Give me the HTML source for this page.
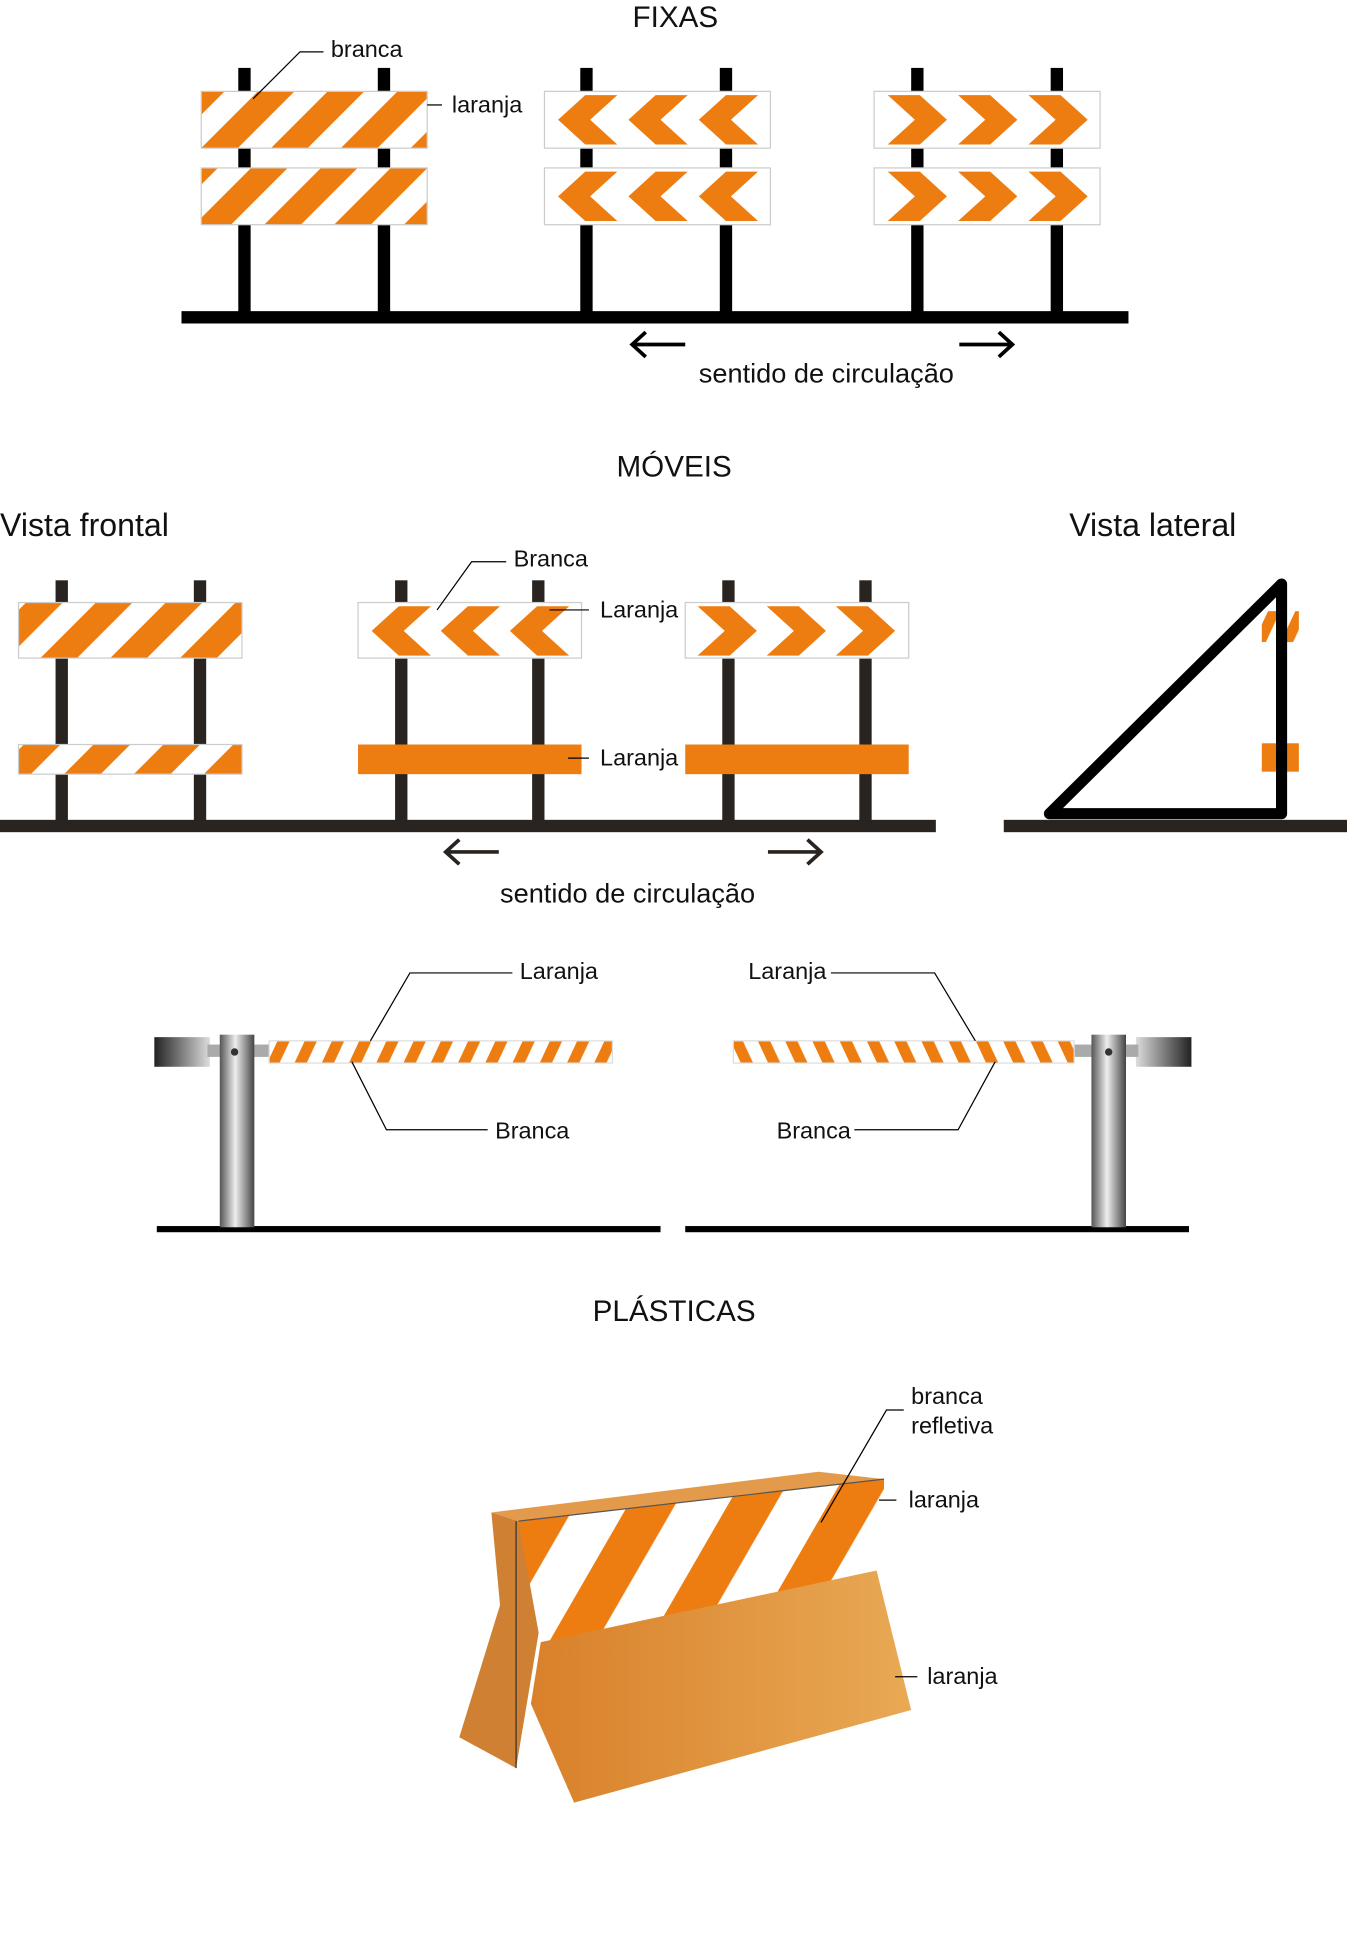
<!DOCTYPE html>
<html><head><meta charset="utf-8"><style>html,body{margin:0;padding:0;background:#fff}svg{display:block}text{font-family:"Liberation Sans",sans-serif;fill:#111}</style></head><body>
<svg width="1347" height="1936" viewBox="0 0 1091 1568" preserveAspectRatio="none" xmlns="http://www.w3.org/2000/svg">
<defs>
<pattern id="st" width="40" height="40" patternUnits="userSpaceOnUse" patternTransform="rotate(45)"><rect width="40" height="40" fill="#fff"/><rect width="21" height="40" fill="#ee7d11"/></pattern>
<pattern id="st2" width="20" height="20" patternUnits="userSpaceOnUse" patternTransform="rotate(25)"><rect width="20" height="20" fill="#fff"/><rect width="9" height="20" fill="#ee7d11"/></pattern>
<pattern id="st3" width="20" height="20" patternUnits="userSpaceOnUse" patternTransform="rotate(-25)"><rect width="20" height="20" fill="#fff"/><rect width="9" height="20" fill="#ee7d11"/></pattern>
<pattern id="st4" width="70" height="70" patternUnits="userSpaceOnUse" patternTransform="rotate(30)"><rect width="70" height="70" fill="#fff"/><rect width="33" height="70" fill="#ee7d11"/></pattern>
<linearGradient id="met" x1="0" x2="1"><stop offset="0" stop-color="#555"/><stop offset="0.45" stop-color="#eee"/><stop offset="1" stop-color="#444"/></linearGradient>
<linearGradient id="blkL" x1="0" x2="1"><stop offset="0" stop-color="#222"/><stop offset="1" stop-color="#ddd"/></linearGradient>
<linearGradient id="blkR" x1="1" x2="0"><stop offset="0" stop-color="#222"/><stop offset="1" stop-color="#ddd"/></linearGradient>
<linearGradient id="plas" x1="0" x2="1"><stop offset="0" stop-color="#d9802a"/><stop offset="1" stop-color="#e8a955"/></linearGradient>
</defs>

<text x="547" y="22" font-size="24" text-anchor="middle">FIXAS</text>
<g fill="#000">
<rect x="193" y="55" width="10" height="202"/><rect x="306" y="55" width="10" height="202"/>
<rect x="470" y="55" width="10" height="202"/><rect x="583" y="55" width="10" height="202"/>
<rect x="738" y="55" width="10" height="202"/><rect x="851" y="55" width="10" height="202"/>
<rect x="147" y="252" width="767" height="10"/>
</g>
<g stroke="#ccc" stroke-width="1">
<rect x="163" y="74" width="183" height="46" fill="url(#st)"/>
<rect x="163" y="136" width="183" height="46" fill="url(#st)"/>
<rect x="441" y="74" width="183" height="46" fill="#fff"/>
<rect x="441" y="136" width="183" height="46" fill="#fff"/>
<rect x="708" y="74" width="183" height="46" fill="#fff"/>
<rect x="708" y="136" width="183" height="46" fill="#fff"/>
</g>
<g fill="#ee7d11">
<path d="M452 97 L474 77 L500 77 L478 97 L500 117 L474 117Z M509 97 L531 77 L557 77 L535 97 L557 117 L531 117Z M566 97 L588 77 L614 77 L592 97 L614 117 L588 117Z"/>
<path d="M452 159 L474 139 L500 139 L478 159 L500 179 L474 179Z M509 159 L531 139 L557 139 L535 159 L557 179 L531 179Z M566 159 L588 139 L614 139 L592 159 L614 179 L588 179Z"/>
<path d="M767 97 L745 77 L719 77 L741 97 L719 117 L745 117Z M824 97 L802 77 L776 77 L798 97 L776 117 L802 117Z M881 97 L859 77 L833 77 L855 97 L833 117 L859 117Z"/>
<path d="M767 159 L745 139 L719 139 L741 159 L719 179 L745 179Z M824 159 L802 139 L776 139 L798 159 L776 179 L802 179Z M881 159 L859 139 L833 139 L855 159 L833 179 L859 179Z"/>
</g>
<g stroke="#000" stroke-width="1" fill="none"><path d="M205 80 L243 42 L262 42"/><path d="M346 85 L358 85"/></g>
<text x="268" y="46" font-size="19">branca</text>
<text x="366" y="91" font-size="19">laranja</text>
<g stroke="#000" stroke-width="3" fill="none"><path d="M555 279 L512 279 M523 269 L512 279 L523 289"/><path d="M777 279 L820 279 M809 269 L820 279 L809 289"/></g>
<text x="566" y="310" font-size="22">sentido de circulação</text>

<text x="546" y="386" font-size="24" text-anchor="middle">MÓVEIS</text>
<text x="0" y="434" font-size="26">Vista frontal</text>
<text x="866" y="434" font-size="26">Vista lateral</text>
<g fill="#2a2421">
<rect x="45" y="470" width="10" height="199"/><rect x="157" y="470" width="10" height="199"/>
<rect x="320" y="470" width="10" height="199"/><rect x="431" y="470" width="10" height="199"/>
<rect x="585" y="470" width="10" height="199"/><rect x="696" y="470" width="10" height="199"/>
<rect x="0" y="664" width="758" height="10"/><rect x="813" y="664" width="278" height="10"/>
</g>
<g stroke="#ccc" stroke-width="1">
<rect x="15" y="488" width="181" height="45" fill="url(#st)"/>
<rect x="15" y="603" width="181" height="24" fill="url(#st)"/>
<rect x="290" y="488" width="181" height="45" fill="#fff"/>
<rect x="555" y="488" width="181" height="45" fill="#fff"/>
</g>
<rect x="290" y="603" width="181" height="24" fill="#ee7d11"/>
<rect x="555" y="603" width="181" height="24" fill="#ee7d11"/>
<g fill="#ee7d11">
<path d="M301 511 L323 491 L349 491 L327 511 L349 531 L323 531Z M357 511 L379 491 L405 491 L383 511 L405 531 L379 531Z M413 511 L435 491 L461 491 L439 511 L461 531 L435 531Z"/>
<path d="M613 511 L591 491 L565 491 L587 511 L565 531 L591 531Z M669 511 L647 491 L621 491 L643 511 L621 531 L647 531Z M725 511 L703 491 L677 491 L699 511 L677 531 L703 531Z"/>
</g>
<rect x="1022" y="495" width="30" height="25" fill="url(#st2)"/>
<rect x="1022" y="602" width="30" height="23" fill="#ee7d11"/>
<path d="M850 659 L1038 473 L1038 659 Z" fill="none" stroke="#000" stroke-width="9" stroke-linejoin="round"/>
<g stroke="#000" stroke-width="1" fill="none"><path d="M354 494 L382 455 L410 455"/><path d="M445 494 L477 494"/><path d="M460 614 L477 614"/></g>
<text x="416" y="459" font-size="19">Branca</text>
<text x="486" y="500" font-size="19">Laranja</text>
<text x="486" y="620" font-size="19">Laranja</text>
<g stroke="#2a2421" stroke-width="3" fill="none"><path d="M404 690 L361 690 M372 680 L361 690 L372 700"/><path d="M622 690 L665 690 M654 680 L665 690 L654 700"/></g>
<text x="405" y="731" font-size="22">sentido de circulação</text>

<rect x="127" y="993" width="408" height="5" fill="#000"/>
<rect x="555" y="993" width="408" height="5" fill="#000"/>
<rect x="125" y="840" width="45" height="24" fill="url(#blkL)"/>
<rect x="168" y="846" width="52" height="10" fill="#aaa"/>
<rect x="218" y="843" width="278" height="18" fill="url(#st2)" stroke="#ddd"/>
<rect x="178" y="838" width="28" height="156" fill="url(#met)"/>
<circle cx="190" cy="852" r="3" fill="#333"/>
<rect x="920" y="840" width="45" height="24" fill="url(#blkR)"/>
<rect x="870" y="846" width="52" height="10" fill="#aaa"/>
<rect x="594" y="843" width="276" height="18" fill="url(#st3)" stroke="#ddd"/>
<rect x="884" y="838" width="28" height="156" fill="url(#met)"/>
<circle cx="898" cy="852" r="3" fill="#333"/>
<g stroke="#000" stroke-width="1" fill="none">
<path d="M300 843 L332 788 L415 788"/><path d="M285 860 L313 915 L395 915"/>
<path d="M790 843 L757 788 L673 788"/><path d="M806 860 L776 915 L692 915"/>
</g>
<text x="421" y="793" font-size="19">Laranja</text>
<text x="401" y="922" font-size="19">Branca</text>
<text x="606" y="793" font-size="19">Laranja</text>
<text x="629" y="922" font-size="19">Branca</text>

<text x="546" y="1070" font-size="24" text-anchor="middle">PLÁSTICAS</text>
<path d="M398 1225 L663 1192 L716 1198 L420 1232 Z" fill="#e39a4a"/>
<path d="M398 1225 L420 1232 L440 1300 L418 1432 L372 1407 L405 1300 Z" fill="#cf8032"/>
<path d="M420 1232 L716 1198 L716 1280 L438 1332 Z" fill="url(#st4)"/>
<path d="M438 1330 L710 1272 L738 1385 L465 1460 L430 1380 Z" fill="url(#plas)"/>
<path d="M418 1232 L418 1432" stroke="#333" stroke-width="1"/>
<path d="M420 1232 L716 1198" stroke="#555" stroke-width="1"/>
<g stroke="#000" stroke-width="1" fill="none"><path d="M665 1233 L718 1142 L732 1142"/><path d="M712 1215 L726 1215"/><path d="M725 1358 L743 1358"/></g>
<text x="738" y="1137" font-size="19">branca</text>
<text x="738" y="1161" font-size="19">refletiva</text>
<text x="736" y="1221" font-size="19">laranja</text>
<text x="751" y="1364" font-size="19">laranja</text>
</svg>
</body></html>
